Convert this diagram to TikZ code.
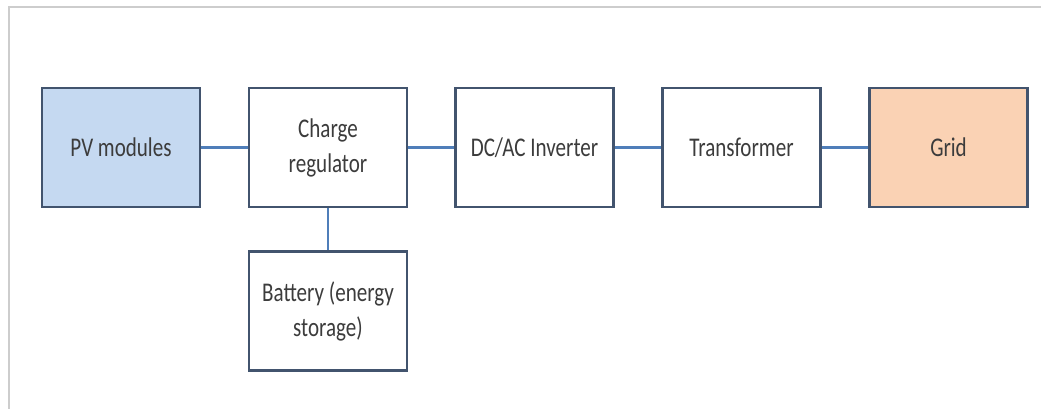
\documentclass[tikz,border=0pt]{standalone}
\usepackage{fontspec}
\setmainfont{Carlito}[FakeStretch=0.78]
\definecolor{boxline}{RGB}{66,84,110}
\definecolor{wire}{RGB}{79,126,185}
\definecolor{pvfill}{RGB}{197,217,241}
\definecolor{gridfill}{RGB}{250,210,180}
\definecolor{txt}{RGB}{60,60,60}
\definecolor{framec}{RGB}{205,205,205}
\tikzset{
  blockbox/.style={draw=boxline, line width=2.6pt, rectangle, minimum width=158pt, minimum height=119pt, inner sep=0pt, align=center, text=txt, font=\fontsize{27}{35}\selectfont},
  wireline/.style={draw=wire, line width=2.6pt}
}
\begin{document}
\begin{tikzpicture}[x=1pt,y=-1pt]
\useasboundingbox (0,0) rectangle (1041,409);
\fill[white] (0,0) rectangle (1041,409);
\draw[framec, line width=1.5pt] (9,409) -- (9,7) -- (1041,7);
\node[blockbox, fill=pvfill] (pv) at (121,147.5) {PV modules};
\node[blockbox, fill=white] (cr) at (328,147.5) {Charge\\regulator};
\node[blockbox, fill=white] (bat) at (328,311) {Battery (energy\\storage)};
\node[blockbox, fill=white] (inv) at (534.5,147.5) {DC/AC Inverter};
\node[blockbox, fill=white] (tr) at (741.5,147.5) {Transformer};
\node[blockbox, fill=gridfill] (grid) at (948.5,147.5) {Grid};
\draw[wireline] (pv) -- (cr);
\draw[wireline] (cr) -- (inv);
\draw[wireline] (inv) -- (tr);
\draw[wireline] (tr) -- (grid);
\draw[wireline] (cr) -- (bat);
\end{tikzpicture}
\end{document}
